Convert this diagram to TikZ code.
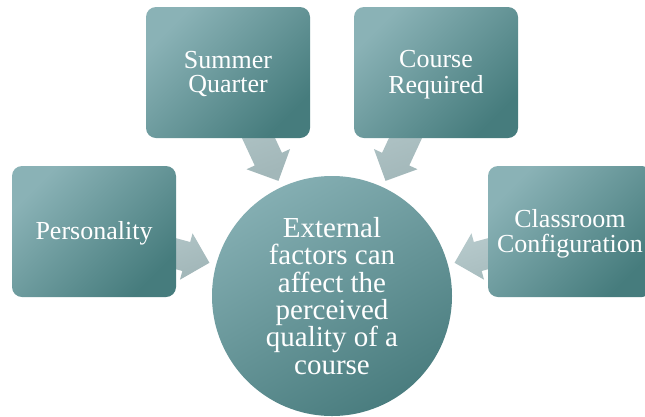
\documentclass[tikz,border=0pt]{standalone}
\usepackage{fontspec}
\setmainfont{Liberation Serif}
\usetikzlibrary{calc,backgrounds}
\definecolor{boxlight}{HTML}{8AB2B6}
\definecolor{boxdark}{HTML}{467C7D}
\definecolor{hublight}{HTML}{84AEB2}
\definecolor{hubdark}{HTML}{4A7D7F}
\definecolor{arrlight}{HTML}{BACDCF}
\definecolor{arrdark}{HTML}{A2B7B9}
\newcommand\boxtext[1]{\raisebox{-3pt}[\height][\depth]{\begin{tabular}{@{}c@{}}#1\end{tabular}}}
\tikzset{
  factor/.style={rectangle, rounded corners=10pt, minimum width=164pt, minimum height=131pt,
    inner sep=0pt, text=white, align=center, font=\fontsize{26}{24}\selectfont,
    top color=boxlight, bottom color=boxdark, shading angle=45},
  hub/.style={circle, minimum size=240pt, inner sep=0pt, text=white, align=center,
    font=\fontsize{29}{27.3}\selectfont,
    top color=hublight, bottom color=hubdark, shading angle=30},
  arrowfill/.style={top color=arrlight, bottom color=arrdark, shading angle=20}
}
\newcommand\flowarrow[2]{%
  \coordinate (T) at (#1.center);
  \coordinate (B) at ($(#1.center)!0.485!(#2.center)$);
  \coordinate (H) at ($(B)!24pt!(T)$);
  \shade[arrowfill] ($(T)!15pt!90:(B)$) -- ($(H)!15pt!90:(B)$) -- ($(H)!24pt!90:(B)$) -- (B)
    -- ($(H)!24pt!-90:(B)$) -- ($(H)!15pt!-90:(B)$) -- ($(T)!15pt!-90:(B)$) -- cycle;
}
\begin{document}
\begin{tikzpicture}[x=1pt,y=-1pt]
\useasboundingbox (0,0) rectangle (645,416);
\node[factor] (sq) at (228,72.5) {\boxtext{Summer\\Quarter}};
\node[factor] (cr) at (436,72.5) {\boxtext{Course\\Required}};
\node[factor] (pe) at (94,231.5) {\boxtext{Personality}};
\node[factor] (cc) at (570,231.5) {\boxtext{Classroom\\Configuration}};
\node[hub] (c) at (332,296) {External\\factors can\\affect the\\perceived\\quality of a\\course};
\begin{scope}[on background layer]
  \fill[white] (0,0) rectangle (645,416);
  \flowarrow{sq}{c}
  \flowarrow{cr}{c}
  \flowarrow{pe}{c}
  \flowarrow{cc}{c}
\end{scope}
\end{tikzpicture}
\end{document}
